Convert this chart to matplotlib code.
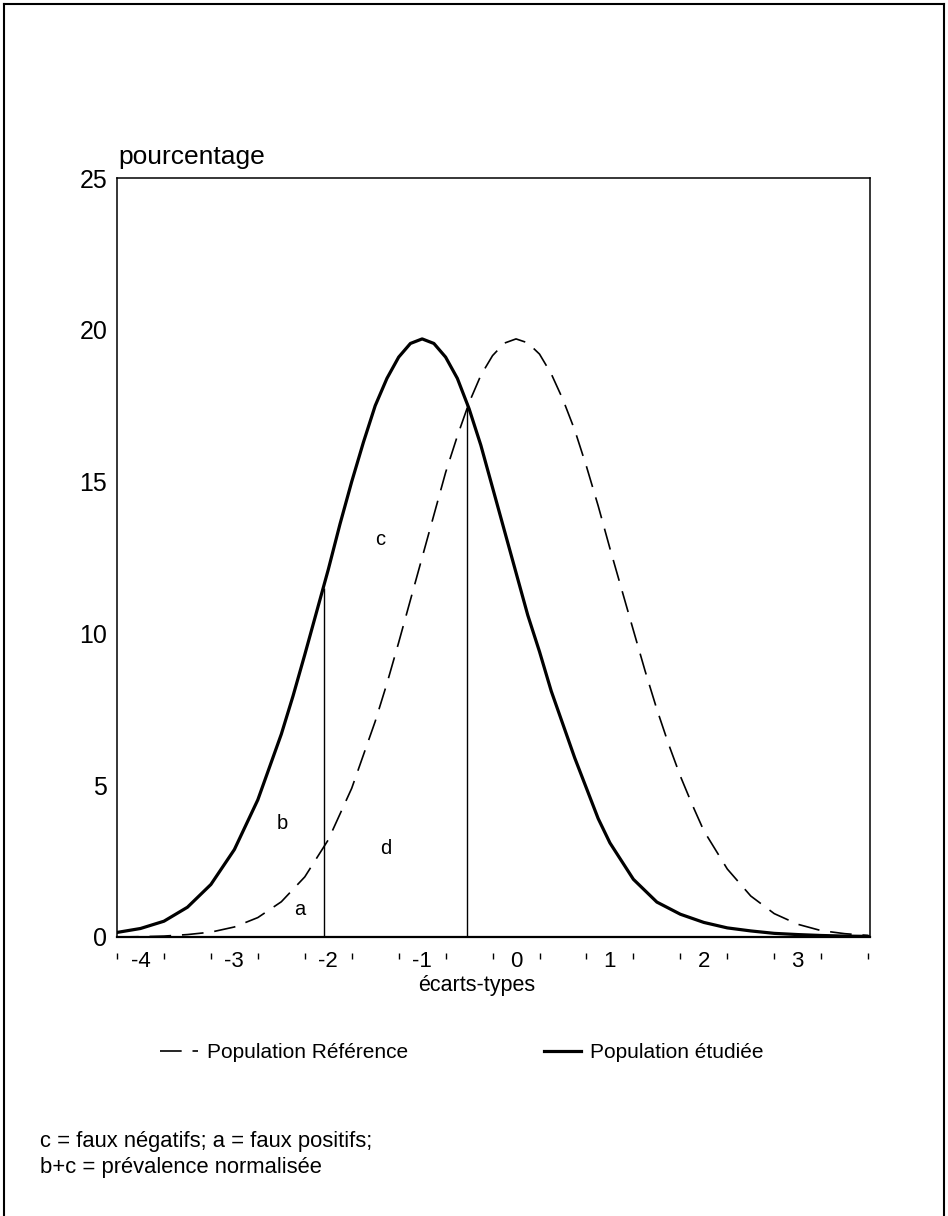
import matplotlib
matplotlib.use("Agg")
import matplotlib.pyplot as plt
from matplotlib.lines import Line2D

plt.rcParams['font.family'] = ['Liberation Sans', 'DejaVu Sans']

# ---- data ----
x_etudiee = [-4.25, -4.0, -3.75, -3.5, -3.25, -3.0, -2.75, -2.5, -2.375, -2.25,
             -2.125, -2.0, -1.875, -1.75, -1.625, -1.5, -1.375, -1.25, -1.125,
             -1.0, -0.875, -0.75, -0.625, -0.5, -0.375, -0.25, -0.125, 0.0,
             0.125, 0.25, 0.375, 0.5, 0.625, 0.75, 0.875, 1.0, 1.25, 1.5, 1.75,
             2.0, 2.25, 2.5, 2.75, 3.0, 3.25, 3.5, 3.75]
pop_etudiee = [0.15, 0.28, 0.52, 0.98, 1.73, 2.88, 4.52, 6.68, 7.94, 9.3,
               10.7, 12.1, 13.6, 15.0, 16.3, 17.5, 18.4, 19.1, 19.55,
               19.7, 19.55, 19.1, 18.4, 17.4, 16.2, 14.8, 13.4, 12.0,
               10.6, 9.4, 8.1, 7.0, 5.9, 4.9, 3.9, 3.1, 1.9, 1.15, 0.75,
               0.48, 0.3, 0.2, 0.12, 0.08, 0.05, 0.03, 0.02]
x_reference = [-4.25, -4.0, -3.75, -3.5, -3.25, -3.0, -2.75, -2.5, -2.25, -2.0,
               -1.75, -1.5, -1.375, -1.25, -1.125, -1.0, -0.875, -0.75, -0.625,
               -0.5, -0.375, -0.25, -0.125, 0.0, 0.125, 0.25, 0.375, 0.5, 0.625,
               0.75, 0.875, 1.0, 1.125, 1.25, 1.375, 1.5, 1.625, 1.75, 1.875,
               2.0, 2.25, 2.5, 2.75, 3.0, 3.25, 3.5, 3.75]
pop_reference = [0.0, 0.01, 0.03, 0.08, 0.16, 0.33, 0.64, 1.16, 1.98, 3.2,
                 4.9, 7.1, 8.35, 9.7, 11.1, 12.5, 13.9, 15.3, 16.5,
                 17.6, 18.5, 19.15, 19.56, 19.7, 19.57, 19.2, 18.55, 17.7, 16.7,
                 15.5, 14.2, 12.8, 11.45, 10.1, 8.76, 7.5, 6.35, 5.3, 4.37,
                 3.5, 2.24, 1.35, 0.77, 0.42, 0.21, 0.11, 0.05]
cutoffs = [-2.05, -0.52]
cutoff_heights = [11.5, 17.6]
zone_labels = ['a', 'b', 'c', 'd']
zone_x = [-2.3, -2.49, -1.45, -1.39]
zone_y = [0.9, 3.75, 13.1, 2.93]
xtick_vals = [-4, -3, -2, -1, 0, 1, 2, 3]
xtick_labels = ['-4', '-3', '-2', '-1', '0', '1', '2', '3']
bin_edges = [-4.25, -3.75, -3.25, -2.75, -2.25, -1.75, -1.25, -0.75, -0.25,
             0.25, 0.75, 1.25, 1.75, 2.25, 2.75, 3.25, 3.75]
ytick_vals = [0, 5, 10, 15, 20, 25]

W, H = 948, 1216
fig = plt.figure(figsize=(W / 100, H / 100), dpi=100)
ax = fig.add_axes([117 / W, 1 - 937 / H, (870 - 117) / W, (937 - 178) / H])

ref_line, = ax.plot(x_reference, pop_reference, color='black', lw=1.2,
                    linestyle=(0, (13, 6.5)))
etu_line, = ax.plot(x_etudiee, pop_etudiee, color='black', lw=2.3,
                    solid_joinstyle='round')
ax.vlines(cutoffs, 0, cutoff_heights, color='black', lw=1.0)
for lab, zx, zy in zip(zone_labels, zone_x, zone_y):
    ax.text(zx, zy, lab, ha='center', va='center', fontsize=14.5)

ax.set_xlim(-4.25, 3.77)
ax.set_ylim(0, 25)
ax.set_xticks(xtick_vals)
ax.set_xticklabels(xtick_labels)
ax.set_yticks(ytick_vals)
ax.tick_params(axis='x', length=0, pad=10, labelsize=16)
ax.tick_params(axis='y', length=0, pad=7, labelsize=18)
for sp in ax.spines.values():
    sp.set_linewidth(1.1)
ax.spines['bottom'].set_linewidth(1.6)

sec = ax.secondary_xaxis(-0.021)
sec.spines['bottom'].set_visible(False)
sec.set_xticks(bin_edges)
sec.set_xticklabels([])
sec.tick_params(axis='x', direction='out', length=4.5, width=1.0)

fig.text(118 / W, 1 - 157 / H, 'pourcentage', fontsize=19, ha='left', va='center')
fig.text(477 / W, 1 - 985 / H, 'écarts-types', fontsize=15.5, ha='center', va='center')

fig.legend([ref_line, etu_line], ['Population Référence', 'Population étudiée'],
           loc='center', bbox_to_anchor=(462 / W, 1 - 1053 / H), ncol=2,
           frameon=False, fontsize=15, handlelength=1.8, handletextpad=0.45,
           columnspacing=6.5)

fig.text(40 / W, 1 - 1142 / H, 'c = faux négatifs; a = faux positifs;',
         fontsize=15.8, ha='left', va='center')
fig.text(40 / W, 1 - 1167 / H, 'b+c = prévalence normalisée',
         fontsize=15.8, ha='left', va='center')

# outer frame of the scanned figure
fig.add_artist(Line2D([4 / W, 4 / W], [0, 1 - 4 / H], transform=fig.transFigure,
                      color='black', lw=1.5))
fig.add_artist(Line2D([4 / W, 944 / W], [1 - 4 / H, 1 - 4 / H],
                      transform=fig.transFigure, color='black', lw=1.5))
fig.add_artist(Line2D([944 / W, 944 / W], [0, 1 - 4 / H], transform=fig.transFigure,
                      color='black', lw=1.5))

fig.savefig('out.png', dpi=100)
